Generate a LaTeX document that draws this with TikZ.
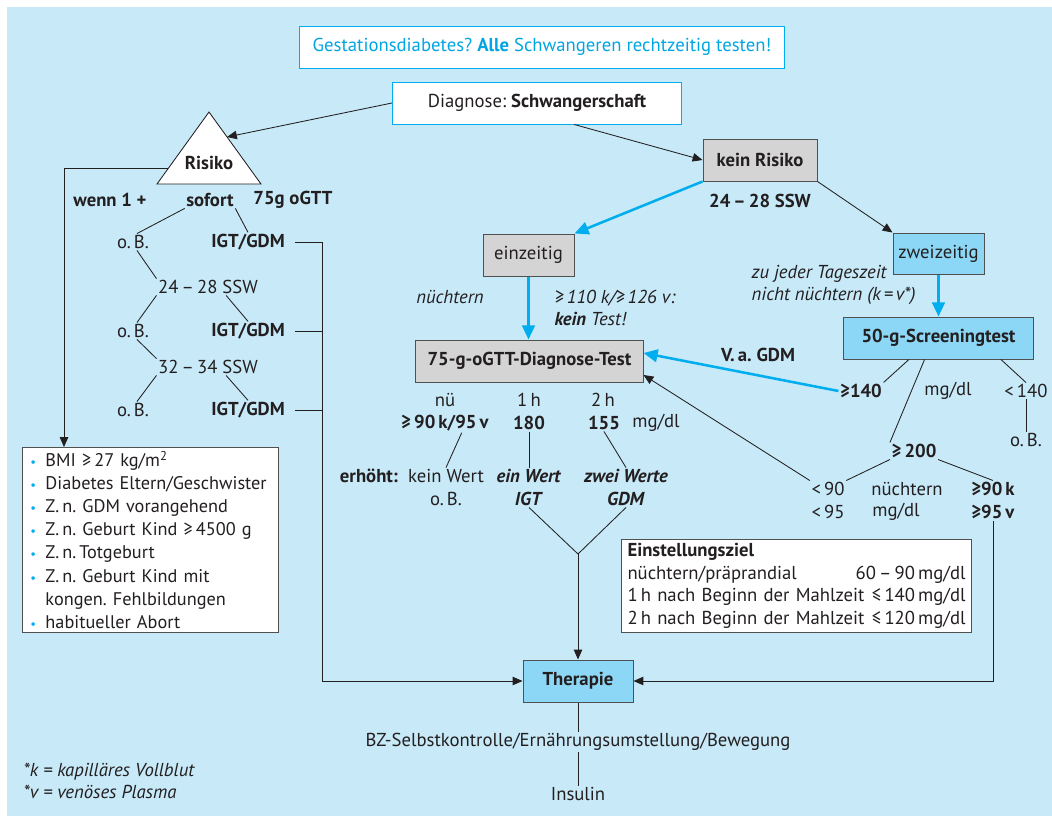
\documentclass[tikz,border=0pt]{standalone}
\usepackage{fontspec}
\setmainfont{PT Sans}
\usetikzlibrary{arrows.meta}
\frenchspacing
\hyphenpenalty=10000

\definecolor{bgblue}{RGB}{199,233,248}
\definecolor{boxblue}{RGB}{139,215,245}
\definecolor{boxgray}{RGB}{212,212,212}
\definecolor{lineblue}{RGB}{0,174,239}
\definecolor{titleblue}{RGB}{0,166,226}
\definecolor{ink}{RGB}{35,31,32}
\definecolor{edge}{RGB}{80,80,80}

\tikzset{
  box/.style={draw=edge, line width=0.7pt, inner sep=0pt, minimum height=1.05cm, text=ink},
  graybox/.style={box, fill=boxgray},
  bluebox/.style={box, fill=boxblue},
  listbox/.style={draw=edge, fill=white, line width=0.7pt, text=ink, align=left, inner ysep=0.1cm},
  lbl/.style={inner sep=1pt, text=ink},
  ln/.style={draw=ink, line width=0.6pt},
  arr/.style={ln, -{Triangle[length=7pt,width=6pt]}},
  barr/.style={draw=lineblue, line width=1.8pt, -{Triangle[length=10pt,width=9pt]}}
}
\newcommand{\bp}{\makebox[0.375cm][l]{\textcolor{lineblue}{\small\textbullet}}}

\begin{document}
\begin{tikzpicture}[x=0.025cm, y=-0.025cm, font=\fontsize{13.3}{16}\selectfont]
\useasboundingbox (0,0) rectangle (1052,816);
\fill[bgblue] (7,7) rectangle (1052,816);

\node[box, draw=lineblue, fill=white, minimum width=12.1cm, text=titleblue] (title) at (542,47) {Gestationsdiabetes? \textbf{Alle} Schwangeren rechtzeitig testen!};
\node[box, draw=lineblue, fill=white, minimum width=7.225cm] (diag) at (537,103) {Diagnose: \textbf{Schwangerschaft}};

% Risiko-Zweig
\draw[ln, fill=white] (209,112) -- (261,184) -- (157,184) -- cycle;
\node[lbl] (risk) at (209,163) {\textbf{Risiko}};
\coordinate (trr) at (227,137);
\coordinate (trl) at (168,168);
\draw[arr] (diag.west) -- (trr);

\node[lbl] (wenn) at (110,200) {\textbf{wenn 1 +}};
\node[lbl] (sofort) at (210,200) {\textbf{sofort}};
\node[lbl] (ogt) at (293,200) {\textbf{75g oGTT}};
\node[lbl] (ob1) at (133,242) {o.\,B.};
\node[lbl] (igt1) at (248,242) {\textbf{IGT/GDM}};
\node[lbl] (ssw1) at (208,287) {24\,–\,28 SSW};
\node[lbl] (ob2) at (133,331) {o.\,B.};
\node[lbl] (igt2) at (248,331) {\textbf{IGT/GDM}};
\node[lbl] (ssw2) at (208,367) {32\,–\,34 SSW};
\node[lbl] (ob3) at (133,410) {o.\,B.};
\node[lbl] (igt3) at (248,410) {\textbf{IGT/GDM}};

\draw[ln] (sofort.south west) -- (ob1.65);
\draw[ln] (sofort.south east) -- (igt1.north);
\draw[ln] (ob1.-65) -- (ssw1.north west);
\draw[ln] (ssw1.south west) -- (ob2.65);
\draw[ln] (ssw1.-25) -- (igt2.north);
\draw[ln] (ob2.-65) -- (ssw2.north west);
\draw[ln] (ssw2.south west) -- (ob3.65);
\draw[ln] (ssw2.-25) -- (igt3.north);

\node[listbox, anchor=north west, text width=6.0cm, inner xsep=0.2cm, font=\fontsize{13}{16.4}\selectfont] (bul) at (22,447) {%
\bp BMI ≥\,27 kg/m\textsuperscript{2}\\
\bp Diabetes Eltern/Geschwister\\
\bp Z.\,n. GDM vorangehend\\
\bp Z.\,n. Geburt Kind ≥\,4500 g\\
\bp Z.\,n.\,Totgeburt\\
\bp Z.\,n. Geburt Kind mit\\
\hspace*{0.375cm}kongen. Fehlbildungen\\
\bp habitueller Abort};
\draw[arr] (trl) -| ([xshift=1.05cm]bul.north west);

\node[lbl, anchor=west, align=left] (fn) at (22,781) {\textit{*k = kapilläres Vollblut}\\\textit{*v = venöses Plasma}};

% kein Risiko
\node[graybox, minimum width=2.85cm] (kr) at (760,160) {\textbf{kein Risiko}};
\node[lbl] (ssw) at (760,201) {\textbf{24\,–\,28 SSW}};
\draw[arr] (diag.-30) -- (kr.west);
\node[graybox, minimum width=2.275cm] (ein) at (528.5,255) {einzeitig};
\node[bluebox, minimum width=2.275cm, minimum height=1.025cm] (zw) at (938.5,253.5) {zweizeitig};
\draw[barr] (kr.south west) -- (ein.north east);
\draw[arr] (kr.south east) -- (zw.north west);

\node[lbl] (nue) at (450,297) {\textit{nüchtern}};
\node[lbl, anchor=west, align=left] (keint) at (553,308) {\textit{≥\,110 k/≥\,126 v:}\\\textit{\textbf{kein} Test!}};
\node[lbl, anchor=west, align=left] (tagz) at (750,285) {\textit{zu jeder Tageszeit}\\\textit{nicht nüchtern (k\,=\,v*)}};

\node[graybox, minimum width=5.675cm] (ogtt) at (529.5,361) {\textbf{75-g-oGTT-Diagnose-Test}};
\node[bluebox, minimum width=4.725cm] (scr) at (938.5,338) {\textbf{50-g-Screeningtest}};
\draw[barr] (ein.south) -- (ein.south |- ogtt.north);
\draw[barr] (zw) -- (scr);

% oGTT-Werte
\node[lbl] (nu) at (445,400) {nü};
\node[lbl] (h1) at (529,400) {1\,h};
\node[lbl] (h2) at (603,400) {2\,h};
\node[lbl] (g90) at (445,423) {\textbf{≥\,90\,k/95\,v}};
\node[lbl] (v180) at (529,423) {\textbf{180}};
\node[lbl] (v155) at (604,423) {\textbf{155}};
\node[lbl] (mgdl1) at (656,423) {mg/dl};
\node[lbl] (erh) at (369,476) {\textbf{erhöht:}};
\node[lbl] (kw) at (446,476) {kein Wert};
\node[lbl] (ob4) at (446,499) {o.\,B.};
\node[lbl] (ew) at (529,476) {\textbf{\textit{ein Wert}}};
\node[lbl] (igt) at (529,499) {\textbf{\textit{IGT}}};
\node[lbl] (zwe) at (626,476) {\textbf{\textit{zwei Werte}}};
\node[lbl] (gdm) at (626,499) {\textbf{\textit{GDM}}};
\draw[ln] (g90.-30) -- (kw.north);
\draw[ln] (v180) -- (ew);
\draw[ln] (v155.south) -- (zwe.north);

\node[bluebox, minimum width=2.75cm] (ther) at (578,681) {\textbf{Therapie}};
\coordinate (vm) at (578,554);
\draw[ln] (igt.south) -- (vm);
\draw[ln] (gdm.south) -- (vm);
\draw[arr] (vm) -- (ther.north);
\node[lbl] (bz) at (578,742) {BZ-Selbstkontrolle/Ernährungsumstellung/Bewegung};
\node[lbl] (ins) at (578,794) {Insulin};
\draw[ln] (ther.south) -- (bz.north);
\draw[ln] (bz.south) -- (ins.north);

% Screening
\node[lbl] (vag) at (758,355) {\textbf{V.\,a. GDM}};
\node[lbl] (ge140) at (861,391) {\textbf{≥140}};
\node[lbl] (mgdl2) at (948,391) {mg/dl};
\node[lbl] (lt140) at (1026,391) {<\,140};
\node[lbl] (obr) at (1026,440) {o.\,B.};
\node[lbl] (ge200) at (914,451) {\textbf{≥\,200}};
\node[lbl] (lt90) at (828,489) {<\,90};
\node[lbl] (lt95) at (828,512) {<\,95};
\node[lbl] (nue2) at (907,489) {nüchtern};
\node[lbl] (mgdl3) at (896,512) {mg/dl};
\node[lbl] (ge90) at (993,489) {\textbf{≥90\,k}};
\node[lbl] (ge95) at (993,512) {\textbf{≥95\,v}};
\draw[barr] (ge140.west) -- (ogtt.4);
\draw[ln] (scr.216) -- (ge140.north east);
\draw[ln] (scr.237) -- (ge200.north west);
\draw[ln] (scr.-19) -- (lt140.north);
\draw[ln] (lt140.south) -- (obr.north);
\draw[ln] (ge200.south west) -- (lt90.north east);
\draw[ln] (ge200.south east) -- (ge90.north);
\draw[arr] (lt90.north west) -- (ogtt.-7);
\draw[arr] (ge95.south) |- (ther.east);

\node[listbox, anchor=north west, text width=8.45cm, inner xsep=0.15cm, font=\fontsize{13.3}{16}\selectfont] (ziel) at (621,539) {%
\textbf{Einstellungsziel}\\
nüchtern/präprandial\hfill 60\,–\,90\,mg/dl\\
1\,h nach Beginn der Mahlzeit\hfill ≤\,140\,mg/dl\\
2\,h nach Beginn der Mahlzeit\hfill ≤\,120\,mg/dl};

% Klammer
\coordinate (br) at (322,242);
\draw[ln, shorten <=6pt] (igt1.east) -- (br);
\draw[ln, shorten <=6pt] (igt2.east) -- (igt2.east -| br);
\draw[ln, shorten <=6pt] (igt3.east) -- (igt3.east -| br);
\draw[arr] (br) |- (ther.west);
\end{tikzpicture}
\end{document}
